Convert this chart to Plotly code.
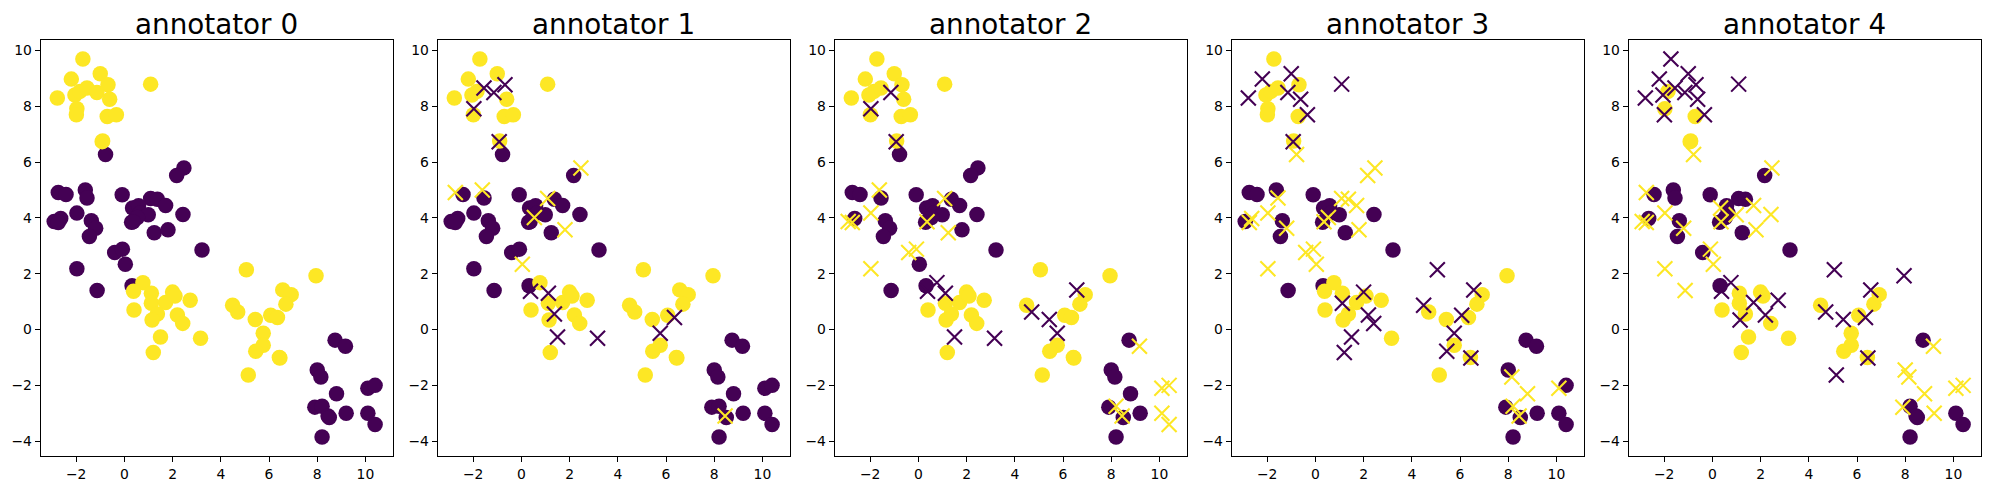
import plotly.graph_objects as go

# point positions, purple group then yellow group
xs = [-0.78, 2.47, 2.17, -2.74, -2.42, -1.62, -1.55, -0.09, 1.09, 1.37,
      1.71, 0.34, 0.59, 0.65, 0.99, 0.54, 0.30, 2.43, -2.91, -2.64,
      -2.74, -1.97, -1.37, -1.19, -1.45, 1.24, 1.81, 3.22, -0.40, -0.08,
      0.04, -1.97, -1.13, 0.32, 8.0, 8.15, 7.9, 8.2, 8.45, 8.5,
      8.2, 8.74, 9.17, 8.8, 10.1, 10.1, 10.4, 10.4, 9.2,
      -1.72, -2.20, -1.00, -0.68, 1.09, -2.78, -2.05, -1.84, -1.55, -1.14,
      -0.61, -1.97, -1.99, -0.71, -0.33, -0.90, 0.77, 0.38, 1.12, 1.12,
      1.71, 2.00, 2.10, 2.73, 0.40, 1.37, 1.15, 2.20, 2.42, 1.50,
      3.16, 1.20, 5.06, 4.49, 4.70, 5.43, 6.57, 6.92, 6.70, 6.07,
      6.35, 5.76, 5.76, 5.45, 6.43, 5.14, 7.95,
      0.36, -0.92, 6.45]
ys = [6.27, 5.79, 5.52, 4.91, 4.84, 5.00, 4.71, 4.83, 4.69, 4.67,
      4.44, 4.35, 4.43, 4.17, 4.11, 4.01, 3.84, 4.12, 3.87, 3.98,
      3.83, 4.17, 3.90, 3.63, 3.33, 3.47, 3.57, 2.85, 2.76, 2.88,
      2.34, 2.18, 1.40, 1.57, -1.45, -1.7, -2.78, -2.75, -3.1, -3.15,
      -3.85, -0.38, -0.60, -2.3, -3.0, -2.1, -2.0, -3.4, -3.0,
      9.69, 8.97, 9.16, 8.77, 8.79, 8.29, 8.40, 8.53, 8.65, 8.49,
      8.25, 7.91, 7.69, 7.63, 7.69, 6.75, 1.68, 1.37, 1.30, 0.94,
      0.97, 1.34, 1.20, 1.05, 0.70, 0.56, 0.34, 0.52, 0.22, -0.27,
      -0.31, -0.82, 2.14, 0.87, 0.63, 0.36, 1.42, 1.25, 0.91, 0.51,
      0.43, -0.13, -0.56, -0.78, -1.00, -1.63, 1.93,
      3.86, 6.73, -1.02]
labels = [0] * 49 + [1] * 47 + [0, 1, 1]

# which points each annotator got wrong
wrong = [
    [],
    [57, 58, 52, 60, 97, 66, 67, 74, 78, 79, 89, 90, 1, 3, 5, 8, 15, 26, 30, 38],
    [58, 60, 97, 5, 21, 18, 20, 28, 29, 31, 96, 8, 25, 65, 66, 67, 78, 79, 83,
     84, 90, 85, 42, 45, 46, 44, 47, 37, 38],
    [50, 51, 54, 58, 59, 63, 53, 97, 0, 1, 2, 6, 8, 9, 10, 21, 19, 20, 23, 96,
     15, 29, 28, 30, 31, 26, 70, 68, 76, 77, 78, 80, 82, 81, 88, 85, 90, 92,
     98, 35, 37, 38, 43, 45],
    [49, 50, 51, 52, 54, 57, 58, 59, 55, 61, 63, 53, 0, 1, 3, 21, 18, 20, 23,
     11, 14, 10, 17, 26, 29, 30, 31, 32, 96, 65, 66, 69, 72, 75, 76, 83, 84,
     89, 98, 81, 85, 94, 95, 34, 35, 43, 48, 36, 45, 46, 42],
]

titles = ["annotator 0", "annotator 1", "annotator 2", "annotator 3", "annotator 4"]
x_ticks = [-2, 0, 2, 4, 6, 8, 10]
y_ticks = [-4, -2, 0, 2, 4, 6, 8, 10]

PURPLE = "#440154"
YELLOW = "#fde725"
colors = {0: PURPLE, 1: YELLOW}
FONT = "DejaVu Sans"
W = 1990
H = 490

fig = go.Figure()

for i, title in enumerate(titles):
    name = "" if i == 0 else str(i + 1)
    left = 40.7 + 397 * i

    right_x = [x for j, x in enumerate(xs) if j not in wrong[i]]
    right_y = [y for j, y in enumerate(ys) if j not in wrong[i]]
    right_c = [colors[l] for j, l in enumerate(labels) if j not in wrong[i]]
    fig.add_trace(go.Scatter(
        x=right_x, y=right_y, mode="markers", xaxis="x" + name, yaxis="y" + name,
        marker=dict(symbol="circle", size=15.5, color=right_c, line=dict(width=0)),
    ))

    # annotator's colour is the opposite of the true one
    miss_x = [xs[j] for j in wrong[i]]
    miss_y = [ys[j] for j in wrong[i]]
    miss_c = [colors[1 - labels[j]] for j in wrong[i]]
    fig.add_trace(go.Scatter(
        x=miss_x, y=miss_y, mode="markers", xaxis="x" + name, yaxis="y" + name,
        marker=dict(symbol="x-thin", size=15, line=dict(width=2.1, color=miss_c)),
    ))

    fig.update_layout({
        "xaxis" + name: dict(
            domain=[left / W, (left + 352) / W], anchor="y" + name,
            range=[-3.47, 11.13], tickmode="array", tickvals=x_ticks,
            ticks="outside", ticklen=5, tickwidth=1.1, tickcolor="black",
            showline=True, linewidth=1.1, linecolor="black", mirror=True,
            showgrid=False, zeroline=False,
            tickfont=dict(family=FONT, size=13.9, color="black"),
        ),
        "yaxis" + name: dict(
            domain=[(H - 456) / H, (H - 40.3) / H], anchor="x" + name,
            range=[-4.53, 10.36], tickmode="array", tickvals=y_ticks,
            ticks="outside", ticklen=5, tickwidth=1.1, tickcolor="black",
            showline=True, linewidth=1.1, linecolor="black", mirror=True,
            showgrid=False, zeroline=False,
            tickfont=dict(family=FONT, size=13.9, color="black"),
        ),
    })
    fig.add_annotation(
        text=title, xref="x" + name + " domain", yref="y" + name + " domain",
        x=0.5, y=1, yshift=-3, xanchor="center", yanchor="bottom", showarrow=False,
        font=dict(family=FONT, size=27.8, color="black"),
    )

fig.update_layout(
    width=W, height=H, margin=dict(l=0, r=0, t=0, b=0),
    plot_bgcolor="white", paper_bgcolor="white", showlegend=False,
)

fig.write_html("out.html", config={"displayModeBar": False},
               post_script="document.body.style.margin='0';")
